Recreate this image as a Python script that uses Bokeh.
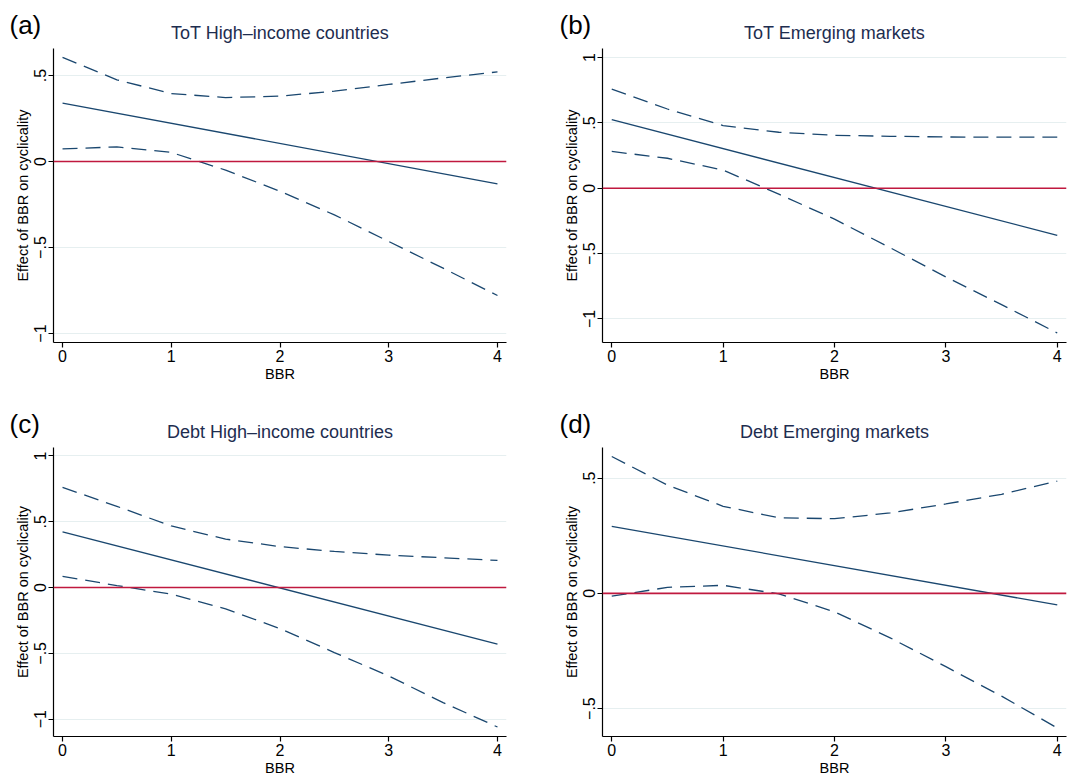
from bokeh.plotting import figure
from bokeh.layouts import gridplot
from bokeh.models import Range1d, FixedTicker, Span, Title
from bokeh.embed import file_html
from bokeh.resources import INLINE

# ---------------- data ----------------
bbr = [0, 0.5, 1, 1.5, 2, 2.5, 3, 3.5, 4]
bbr_ends = [0, 4]

tot_hi_effect = [0.340, -0.130]
tot_hi_upper = [0.605, 0.475, 0.395, 0.372, 0.380, 0.409, 0.448, 0.486, 0.521]
tot_hi_lower = [0.073, 0.085, 0.053, -0.050, -0.173, -0.310, -0.465, -0.620, -0.779]

tot_em_effect = [0.525, -0.360]
tot_em_upper = [0.759, 0.607, 0.480, 0.429, 0.406, 0.398, 0.393, 0.391, 0.391]
tot_em_lower = [0.282, 0.230, 0.140, -0.045, -0.236, -0.455, -0.678, -0.890, -1.107]

debt_hi_effect = [0.423, -0.430]
debt_hi_upper = [0.761, 0.617, 0.468, 0.368, 0.311, 0.274, 0.246, 0.226, 0.206]
debt_hi_lower = [0.085, 0.015, -0.050, -0.162, -0.312, -0.494, -0.672, -0.874, -1.060]

debt_em_effect = [0.291, -0.050]
debt_em_upper = [0.594, 0.470, 0.378, 0.328, 0.324, 0.349, 0.388, 0.430, 0.487]
debt_em_lower = [-0.012, 0.026, 0.035, -0.002, -0.080, -0.193, -0.318, -0.446, -0.584]

letters = ["(a)", "(b)", "(c)", "(d)"]
titles = ["ToT High\u2013income countries", "ToT Emerging markets",
          "Debt High\u2013income countries", "Debt Emerging markets"]
x_ticks = [0, 1, 2, 3, 4]
y_ticks_list = [[-1, -0.5, 0, 0.5], [-1, -0.5, 0, 0.5, 1],
                [-1, -0.5, 0, 0.5, 1], [-0.5, 0, 0.5]]
y_tick_text = {-1: "\u22121", -0.5: "\u2212.5", 0: "0", 0.5: ".5", 1: "1"}
y_ranges = [(-1.052, 0.657), (-1.18, 1.07), (-1.132, 1.064), (-0.621, 0.633)]
x_label = "BBR"
y_label = "Effect of BBR on cyclicality"

series = [
    (tot_hi_effect, tot_hi_upper, tot_hi_lower),
    (tot_em_effect, tot_em_upper, tot_em_lower),
    (debt_hi_effect, debt_hi_upper, debt_hi_lower),
    (debt_em_effect, debt_em_upper, debt_em_lower),
]

# ---------------- style ----------------
FONT = "Liberation Sans"
NAVY = "#1a476f"
RED = "#c0193f"
GRID = "#e6eff0"
TITLE_COL = "#1e2d4f"

# (width, height, border_left, border_right, border_top, border_bottom, x_end, letter_x)
layouts = [
    (533, 392, 53, 27, 48, 50, 4.083, 9),
    (534, 392, 69, 1, 48, 50, 4.083, 26),
    (533, 386, 53, 27, 55, 39, 4.083, 9),
    (534, 386, 69, 1, 55, 39, 4.083, 26),
]

figs = []
for i in range(4):
    w, h, bl, br, bt, bb, xend, lx = layouts[i]
    effect, upper, lower = series[i]
    p = figure(width=w, height=h, output_backend="svg", toolbar_location=None,
               title=None,
               x_range=Range1d(-0.083, xend), y_range=Range1d(*y_ranges[i]),
               min_border_left=bl, min_border_right=br,
               min_border_top=bt, min_border_bottom=bb)
    p.outline_line_color = None
    p.background_fill_color = "white"
    p.border_fill_color = "white"

    p.add_layout(Title(text=titles[i], align="center", text_font=FONT,
                       text_font_size="18px", text_font_style="normal",
                       text_color=TITLE_COL, standoff=12), "above")
    p.add_layout(Title(text=letters[i], align="left", offset=lx - bl,
                       text_font=FONT, text_font_size="26px",
                       text_font_style="normal", text_color="black",
                       standoff=-50, padding=dict(left=0, right=0, top=6, bottom=0)),
                 "above")

    p.xgrid.visible = False
    p.ygrid.grid_line_color = GRID
    p.ygrid.grid_line_width = 1.2
    p.ygrid.ticker = FixedTicker(ticks=y_ticks_list[i])

    p.xaxis.ticker = FixedTicker(ticks=x_ticks)
    p.yaxis.ticker = FixedTicker(ticks=y_ticks_list[i])
    p.yaxis.major_label_overrides = {t: y_tick_text[t] for t in y_ticks_list[i]}
    p.yaxis.major_label_orientation = "vertical"
    for ax in (p.xaxis, p.yaxis):
        ax.axis_line_color = "black"
        ax.axis_line_width = 1.2
        ax.major_tick_line_color = "black"
        ax.major_tick_line_width = 1.2
        ax.major_tick_out = 5
        ax.major_tick_in = 0
        ax.minor_tick_line_color = None
        ax.major_label_text_font = FONT
        ax.major_label_text_font_size = "16px"
        ax.major_label_text_color = "black"
        ax.axis_label_text_font = FONT
        ax.axis_label_text_font_size = "14.5px"
        ax.axis_label_text_font_style = "normal"
        ax.axis_label_text_color = "black"
        ax.major_label_standoff = 2
        ax.axis_label_standoff = 1
    p.xaxis.axis_label = x_label
    p.yaxis.axis_label = y_label

    p.add_layout(Span(location=0, dimension="width", line_color=RED, line_width=1.6))
    p.line(bbr_ends, effect, line_color=NAVY, line_width=1.3)
    p.line(bbr, upper, line_color=NAVY, line_width=1.3, line_dash="15 8")
    p.line(bbr, lower, line_color=NAVY, line_width=1.3, line_dash="15 8")
    figs.append(p)

grid = gridplot([[figs[0], figs[1]], [figs[2], figs[3]]], toolbar_location=None)
open("out.html", "w").write(file_html(grid, INLINE))
